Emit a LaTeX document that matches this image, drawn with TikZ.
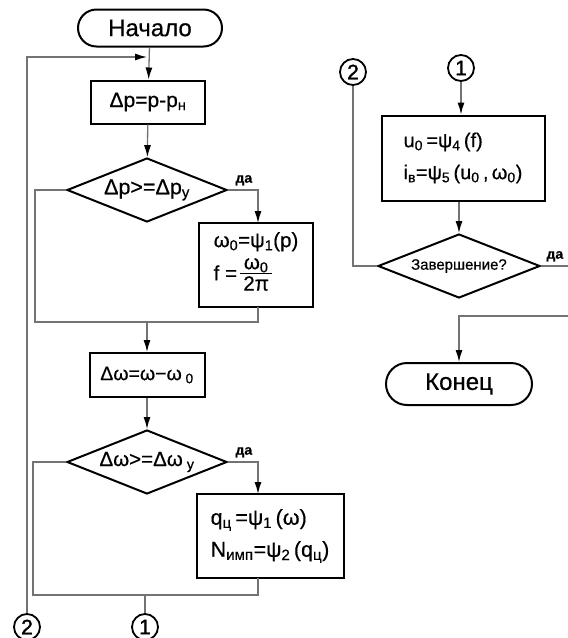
\documentclass[tikz,border=0pt]{standalone}
\usepackage{fontspec}
\setmainfont{Liberation Sans}[FakeBold=0.5]
\newfontfamily\digitfont{Liberation Sans}[FakeBold=1.5]
\usetikzlibrary{shapes.geometric,shapes.misc,arrows.meta}
\begin{document}
\begin{tikzpicture}[x=1pt,y=-1pt,
 conn/.style={draw=black!55,line width=1.3pt},
 arr/.style={conn,-{Latex[length=12pt,width=7pt,color=black]}},
 term/.style={draw,line width=2pt,rounded rectangle,minimum width=144pt,minimum height=37pt,inner sep=0pt,font=\fontsize{24}{26}\selectfont},
 proc/.style={draw,line width=2pt,rectangle,inner sep=0pt},
 dec/.style={draw,line width=2pt,diamond,aspect=2.5,inner sep=0pt,minimum width=160pt,minimum height=64pt},
 con/.style={draw,line width=1.8pt,circle,minimum size=26pt,inner sep=0pt,font=\digitfont\fontsize{21}{21}\selectfont},
 yes/.style={font=\fontsize{14}{14}\selectfont\bfseries}]
\useasboundingbox (0,0) rectangle (568,638);
\fill[white] (0,0) rectangle (568,638);
% left column
\node[term] (start) at (150,28) {Начало};
\node[proc,minimum width=114pt,minimum height=43pt,font=\fontsize{21}{22}\selectfont] (b1) at (148,102) {Δp=p-p\textsubscript{н}};
\node[dec,font=\fontsize{21.5}{22}\selectfont] (d1) at (147,190) {Δp>=Δp\textsubscript{у}};
\node[proc,minimum width=114pt,minimum height=84pt,align=left,font=\fontsize{20.5}{24}\selectfont] (b2) at (256,265)
 {ω\textsubscript{0}=ψ\textsubscript{1}(p)\\ f =\,\begin{tabular}{@{}c@{}}\,ω\textsubscript{0}\,\\[-3pt]\hline 2π\end{tabular}};
\node[proc,minimum width=115pt,minimum height=44pt,font=\fontsize{19.5}{22}\selectfont] (b3) at (147,375) {Δω=ω−ω\textsubscript{ 0}};
\node[dec,font=\fontsize{20.5}{22}\selectfont] (d2) at (147,462) {Δω>=Δω\textsubscript{ у}};
\node[proc,minimum width=147pt,minimum height=84pt,align=left,font=\fontsize{21.5}{32}\selectfont] (b4) at (270,536)
 {q\textsubscript{ц}\,=ψ\textsubscript{1}\,(ω)\\ N\textsubscript{имп}=ψ\textsubscript{2}\,(q\textsubscript{ц})};
\node[con] (c2l) at (27,627) {2};
\node[con] (c1l) at (145,627) {1};
% right column
\node[con] (c2r) at (353,72) {2};
\node[con] (c1r) at (461,68) {1};
\node[proc,minimum width=163pt,minimum height=85pt,align=left,font=\fontsize{20}{32}\selectfont] (b5) at (463,158)
 {u\textsubscript{0}\,=ψ\textsubscript{4}\,(f)\\ i\textsubscript{в}=ψ\textsubscript{5}\,(u\textsubscript{0}\,,\,ω\textsubscript{0})};
\node[dec,minimum width=162pt,font=\fontsize{15}{16}\selectfont] (d3) at (459,266) {Завершение?};
\node[term,minimum width=146pt,minimum height=42pt] (end) at (459,384) {Конец};
% coordinates
\coordinate (j1) at (147,57);
\coordinate (m1) at (147,322);
\coordinate (m2) at (145,595);
\coordinate (y3) at (568,266);
\coordinate (r3) at (568,316);
% connectors left
\draw[arr] (start) -- (b1);
\draw[arr] (c2l) -- (c2l |- j1) -- (j1);
\draw[arr] (b1) -- (d1);
\draw[arr] (d1.east) -- (258,190) -- (258,223);
\node[yes,anchor=south west] (y1) at (232,189) {да};
\draw[conn] (d1.west) -- (35,190) -- (35,322) -- (258,322) -- (258,307);
\draw[arr] (m1) -- (b3);
\draw[arr] (b3) -- (d2);
\draw[arr] (d2.east) -- (258,462) -- (258,494);
\node[yes,anchor=south west] (y2) at (232,461) {да};
\draw[conn] (d2.west) -- (33,462) -- (33,595) -- (258,595) -- (258,578);
\draw[conn] (m2) -- (c1l);
% connectors right
\draw[arr] (c1r) -- (c1r |- b5.north);
\draw[arr] (b5.south -| d3) -- (d3);
\draw[conn] (d3.east) -- (y3);
\node[yes,anchor=south west] (y3l) at (543,265) {да};
\draw[conn] (d3.west) -| (c2r);
\draw[arr] (r3) -- (459,316) -- (end);
\end{tikzpicture}
\end{document}
